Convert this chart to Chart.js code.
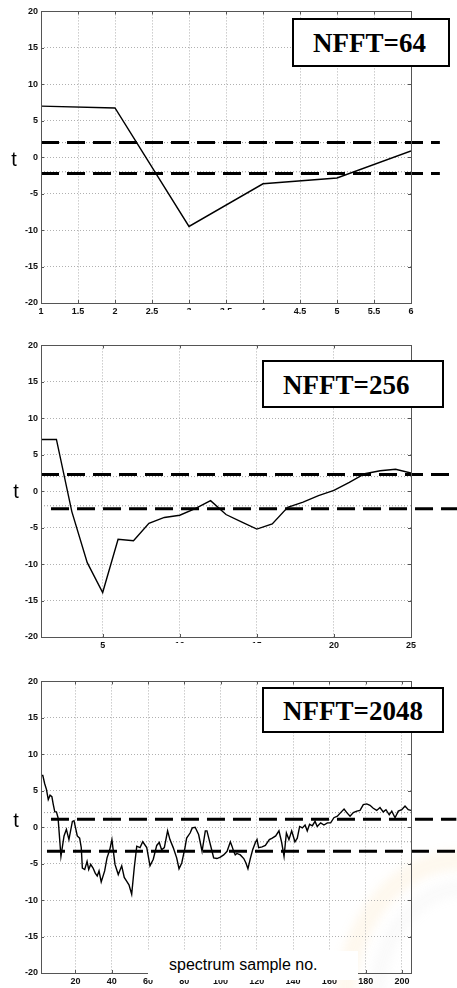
<!DOCTYPE html>
<html>
<head>
<meta charset="utf-8">
<script src="https://cdn.jsdelivr.net/npm/chart.js"></script>
<style>
  body { margin: 0; background: #fff; }
  #page { position: relative; width: 457px; height: 988px; overflow: hidden; background: #fff; }
  canvas { position: absolute; left: 0; z-index: 1; }
  .tlab { position: absolute; z-index: 2; font: 20px "Liberation Sans", Arial, sans-serif; transform: translate(-50%, -50%); }
  .nfft { position: absolute; z-index: 2; box-sizing: border-box; border: 2px solid #000; background: #fff;
          font: bold 27px "Liberation Serif", "Times New Roman", serif; padding-left: 19px; white-space: nowrap; }
  .mask { position: absolute; z-index: 3; background: #fff; }
  .xtitle { position: absolute; z-index: 3; background: #fff; font: 16px "Liberation Sans", Arial, sans-serif;
            padding-left: 21px; box-sizing: border-box; line-height: 27px; }
  .mark { position: absolute; z-index: 0; border-radius: 50%; box-sizing: border-box; filter: blur(5px); }
</style>
</head>
<body>
<div id="page">
  <div class="mark" style="left:335px;top:850px;width:250px;height:310px;border:20px solid rgba(248,190,90,0.10);"></div>
  <div class="mark" style="left:368px;top:880px;width:190px;height:250px;border:16px solid rgba(190,190,190,0.08);"></div>

  <canvas id="c64" width="457" height="316" style="top:3px"></canvas>
  <canvas id="c256" width="457" height="316" style="top:337px"></canvas>
  <canvas id="c2048" width="457" height="316" style="top:673px"></canvas>

  <div class="tlab" style="left:14px;top:159px">t</div>
  <div class="tlab" style="left:16px;top:491px">t</div>
  <div class="tlab" style="left:16px;top:820px">t</div>

  <div class="nfft" style="left:292px;top:18px;width:158px;height:49px;line-height:47px">NFFT=64</div>
  <div class="nfft" style="left:262px;top:360px;width:182px;height:48px;line-height:46px">NFFT=256</div>
  <div class="nfft" style="left:262px;top:687px;width:182px;height:46px;line-height:44px">NFFT=2048</div>

  <div class="mask" style="left:168px;top:310px;width:116px;height:25px"></div>
  <div class="mask" style="left:168px;top:643px;width:122px;height:17px"></div>
  <div class="xtitle" style="left:148px;top:951px;width:210px;height:29px">spectrum sample no.</div>
</div>
<script>
// y axis, shared
const yTicks = [-20, -15, -10, -5, 0, 5, 10, 15, 20];
const guides = [2, -2];

// NFFT=64
const x64 = [1, 2, 3, 4, 5, 6];
const t64 = [7.0, 6.75, -9.5, -3.65, -2.85, 0.85];
const xTicks64 = [1, 1.5, 2, 2.5, 3, 3.5, 4, 4.5, 5, 5.5, 6];
const lim64 = [2.0, -2.25];

// NFFT=256
const x256 = [1, 2, 3, 4, 5, 6, 7, 8, 9, 10, 11, 12, 13, 14, 15, 16, 17, 18, 19, 20, 21, 22, 23, 24, 25];
const t256 = [7.1, 7.1, -2.8, -9.8, -13.9, -6.6, -6.8, -4.4, -3.6, -3.3, -2.4, -1.3, -3.2, -4.2, -5.2,
              -4.5, -2.2, -1.5, -0.6, 0.1, 1.2, 2.4, 2.8, 3.0, 2.5];
const xTicks256 = [5, 10, 15, 20, 25];
const lim256 = [2.3, -2.4];

// NFFT=2048
const x2048 = [1, 2, 3, 4, 5, 6, 7, 7.7, 8.6, 9.5,
  10.4, 12, 13.7, 15, 16.4, 18.3, 19.2, 21, 22.3, 23.2,
  23.8, 25.1, 26.4, 27.3, 28.4, 29.7, 30.9, 32, 33, 34.2,
  36.1, 37.4, 38.9, 40.1, 41.8, 43.6, 45.5, 46.9, 48.2, 49.5,
  51, 52.4, 53.8, 55.6, 57.1, 59.3, 61.1, 62.9, 64.8, 66.2,
  67.5, 69, 70.8, 72.1, 73.9, 75.8, 77.1, 78.6, 80.4, 81.3,
  83.2, 84.4, 86, 87.9, 89.8, 91.6, 92.5, 93.5, 95.3, 96.2,
  98, 99.9, 101.7, 103.6, 105.4, 106.3, 107.2, 108.1, 109, 110.9,
  112.8, 114, 115.1, 116.4, 117.7, 119.2, 120.1, 121, 122.9, 124.7,
  126.9, 128.5, 130.4, 132.2, 133.7, 135, 136.3, 137.7, 139.2, 141,
  142.3, 143.6, 145.1, 146.6, 147.8, 149.1, 150.6, 152.1, 153.3, 155.2,
  157, 158.9, 160.7, 162.5, 164.4, 166.2, 168.1, 169.6, 171.4, 173.2,
  175.1, 176.9, 178.7, 180.6, 182.4, 184.2, 186.1, 187.9, 189.7, 191.2,
  193, 194.4, 196.2, 198, 199.9, 201.7, 203.5, 205];
const t2048 = [7.1, 7.1, 6.0, 5.2, 3.8, 4.4, 4.2, 3.2, 2.1, 2.1,
  1.3, -4.0, -1.2, -0.3, -1.7, 0.8, 0.9, -1.2, -1.5, -2.8,
  -5.6, -5.8, -4.7, -5.8, -5.1, -5.6, -6.3, -6.7, -6.0, -7.5,
  -6.0, -4.2, -3.1, -1.7, -5.1, -6.5, -5.3, -6.9, -7.4, -7.9,
  -9.2, -5.6, -2.6, -2.8, -2.0, -2.8, -5.3, -4.4, -2.5, -2.1,
  -3.1, -2.8, -0.5, -1.7, -2.8, -4.2, -5.7, -4.9, -2.8, -1.5,
  -0.8, -0.1, 0.0, -1.0, -3.3, -0.5, -0.5, -1.5, -3.3, -4.2,
  -4.3, -4.1, -3.8, -3.3, -2.0, -2.6, -3.3, -3.8, -3.6, -3.8,
  -4.3, -4.9, -5.7, -4.3, -3.1, -2.1, -1.7, -2.8, -2.7, -2.5,
  -1.7, -1.5, -1.2, -0.5, -2.1, -4.0, -0.8, -1.7, -0.5, -2.0,
  -1.5, 0.1, -0.1, 0.3, -0.5, 0.4, 0.2, 0.8, 0.1, 0.6,
  0.3, 0.6, 0.6, 1.3, 1.5, 2.0, 2.5, 2.0, 1.5, 2.0,
  2.2, 2.3, 3.1, 3.2, 3.0, 2.6, 2.3, 2.7, 2.1, 2.4,
  1.7, 2.2, 1.3, 2.2, 2.4, 2.9, 2.4, 2.3];
const xTicks2048 = [20, 40, 60, 80, 100, 120, 140, 160, 180, 200];
const lim2048 = [1.1, -3.3];

// box round the plot + small inward ticks, matlab style
const frame = {
  id: 'frame',
  afterDraw(chart) {
    const { ctx, chartArea: a, scales: { x, y } } = chart;
    ctx.save();
    ctx.strokeStyle = '#555';
    ctx.lineWidth = 1;
    ctx.strokeRect(Math.round(a.left) + 0.5, Math.round(a.top) + 0.5,
                   Math.round(a.right - a.left), Math.round(a.bottom - a.top));
    ctx.beginPath();
    x.ticks.forEach(t => {
      const px = Math.round(x.getPixelForValue(t.value)) + 0.5;
      ctx.moveTo(px, a.bottom); ctx.lineTo(px, a.bottom - 3);
      ctx.moveTo(px, a.top); ctx.lineTo(px, a.top + 3);
    });
    y.ticks.forEach(t => {
      const py = Math.round(y.getPixelForValue(t.value)) + 0.5;
      ctx.moveTo(a.left, py); ctx.lineTo(a.left + 3, py);
      ctx.moveTo(a.right, py); ctx.lineTo(a.right - 3, py);
    });
    ctx.stroke();
    ctx.restore();
  }
};

const tickFont = { family: '"Liberation Sans", Arial, sans-serif', size: 9, weight: 'bold' };

function pts(xs, ys) {
  return xs.map((x, i) => ({ x: x, y: ys[i] }));
}

function makeChart(id, xs, ts, xMin, xMax, xTicks, lims, limFrom, limTo) {
  const datasets = [{
    data: pts(xs, ts),
    borderColor: '#000',
    borderWidth: 1.4,
    pointRadius: 0
  }];
  lims.forEach((v, i) => {
    datasets.push({
      data: [{ x: limFrom[i], y: v }, { x: limTo, y: v }],
      borderColor: '#000',
      borderWidth: 3,
      borderDash: [18, 8],
      pointRadius: 0,
      clip: false
    });
  });
  guides.forEach(v => {
    datasets.push({
      data: [{ x: xMin, y: v }, { x: xMax, y: v }],
      borderColor: '#999',
      borderWidth: 1,
      borderDash: [1, 2],
      pointRadius: 0
    });
  });

  return new Chart(document.getElementById(id), {
    type: 'line',
    data: { datasets: datasets },
    options: {
      responsive: false,
      animation: false,
      layout: { padding: { left: 0, right: 46, top: 8, bottom: 0 } },
      plugins: { legend: { display: false }, tooltip: { enabled: false } },
      scales: {
        x: {
          type: 'linear',
          min: xMin,
          max: xMax,
          afterBuildTicks: s => { s.ticks = xTicks.map(v => ({ value: v })); },
          afterFit: s => { s.height = 16; },
          grid: { color: '#b0b0b0', lineWidth: 1, drawTicks: false },
          border: { display: false, dash: [1, 2] },
          ticks: { font: tickFont, color: '#111', padding: 3, maxRotation: 0, autoSkip: false,
                   callback: v => String(v) }
        },
        y: {
          min: -20,
          max: 20,
          afterBuildTicks: s => { s.ticks = yTicks.map(v => ({ value: v })); },
          afterFit: s => { s.width = 41; },
          grid: { color: '#b0b0b0', lineWidth: 1, drawTicks: false },
          border: { display: false, dash: [1, 2] },
          ticks: { font: tickFont, color: '#111', padding: 3, callback: v => String(v) }
        }
      }
    },
    plugins: [frame]
  });
}

makeChart('c64', x64, t64, 1, 6, xTicks64, lim64, [1, 1], 6.39);
makeChart('c256', x256, t256, 1, 25, xTicks256, lim256, [1, 1.65], 28);
makeChart('c2048', x2048, t2048, 1, 205, xTicks2048, lim2048, [6.5, 4.3], 230);
</script>
</body>
</html>
